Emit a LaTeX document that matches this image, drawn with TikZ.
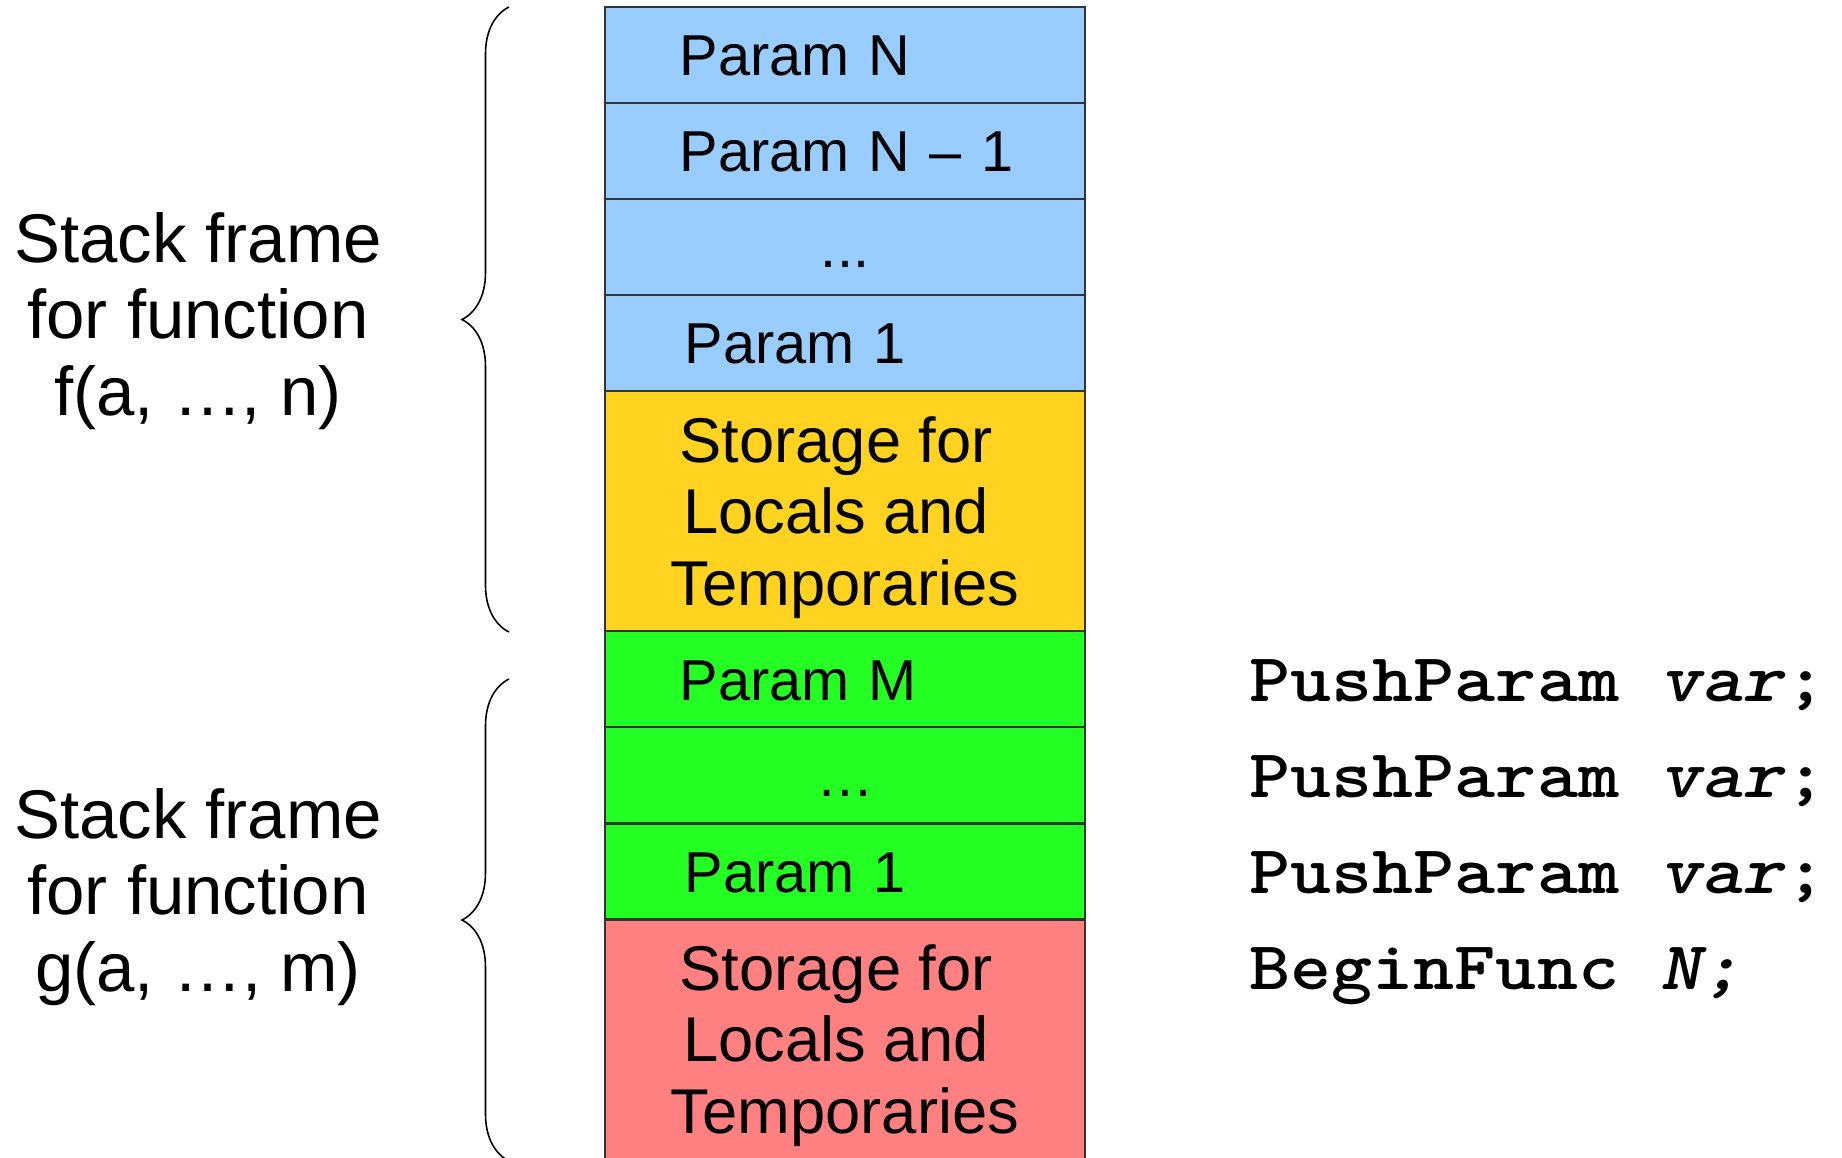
\documentclass[tikz,border=0pt]{standalone}
\usepackage{fontspec}
\setmainfont{Liberation Sans}
\usetikzlibrary{positioning, decorations.pathreplacing}

\definecolor{parblue}{HTML}{99CCFF}
\definecolor{locyellow}{HTML}{FFD320}
\definecolor{pargreen}{HTML}{23FF23}
\definecolor{locred}{HTML}{FF8080}

\newcommand{\codetext}[1]{\scalebox{1.14}[1]{#1}}

\tikzset{
  cell/.style={draw=black!80, line width=0.6pt, minimum width=4.79cm, minimum height=0.96cm,
    inner sep=0pt, outer sep=0pt, text height=0.414cm, text depth=0cm,
    font=\fontsize{16.4}{19}\selectfont},
  paramcell/.style={cell, text width=3.3cm, align=left},
  storecell/.style={cell, minimum height=2.4cm},
  storetext/.style={align=center, inner sep=0pt, yshift=-1.7pt, font=\fontsize{18}{20.3}\selectfont},
  framelabel/.style={align=center, font=\fontsize{19.6}{21.7}\selectfont},
  codeline/.style={anchor=base west, inner sep=0pt, font=\fontsize{19.5}{22}\selectfont\ttfamily\bfseries},
  framebrace/.style={decorate, decoration={brace, amplitude=0.47cm}, line width=0.45pt}
}

\begin{document}
\begin{tikzpicture}[x=0.01cm, y=-0.01cm]
\clip (0,0) rectangle (1842,1157);

% frame of f
\node[paramcell, fill=parblue, anchor=north] (fN) at (845,7) {Param N};
\node[paramcell, fill=parblue, below=0pt of fN] (fNm) {\mbox{Param N -- 1}};
\node[cell, fill=parblue, below=0pt of fNm] (fdots) {...};
\node[paramcell, fill=parblue, below=0pt of fdots] (fone) {\kern1.4pt Param 1};
\node[storecell, fill=locyellow, below=0pt of fone] (flocals) {};
\node[storetext] (flocalstext) at (flocals) {Storage for\kern0.28em\\Locals and\kern0.28em\\Temporaries};

% frame of g
\node[paramcell, fill=pargreen, below=0pt of flocals] (gM) {Param M};
\node[cell, fill=pargreen, below=0pt of gM] (gdots) {…};
\node[paramcell, fill=pargreen, below=0pt of gdots] (gone) {\kern1.4pt Param 1};
\node[storecell, fill=locred, below=0pt of gone] (glocals) {};
\node[storetext] (glocalstext) at (glocals) {Storage for\kern0.28em\\Locals and\kern0.28em\\Temporaries};

% braces
\coordinate (fTop) at (509,7);
\coordinate (fBot) at (509,632);
\coordinate (gTop) at (509,679);
\coordinate (gBot) at (509,1161);
\draw[framebrace] (fBot) -- (fTop);
\draw[framebrace] (gBot) -- (gTop);

\node[framelabel] (flabel) at (198,321) {Stack frame\\for function\\f(a, …, n)};
\node[framelabel] (glabel) at (198,897) {Stack frame\\for function\\g(a, …, m)};

% calling code
\node[codeline] (push1) at (1249,701) {\codetext{PushParam \textit{var};}};
\node[codeline] (push2) at (1249,797) {\codetext{PushParam \textit{var};}};
\node[codeline] (push3) at (1249,893) {\codetext{PushParam \textit{var};}};
\node[codeline] (begin) at (1249,989) {\codetext{BeginFunc \textit{N;}}};
\end{tikzpicture}
\end{document}
